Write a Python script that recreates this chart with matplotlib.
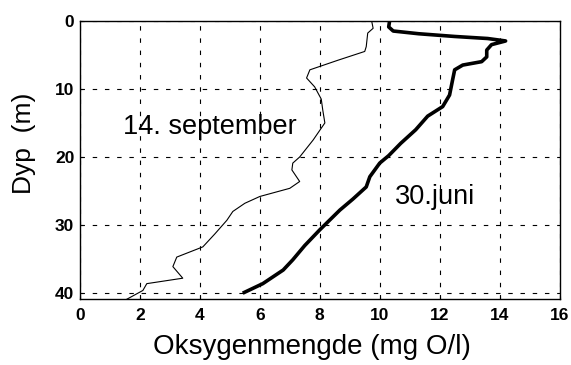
import matplotlib.pyplot as plt

plt.rcParams['font.family'] = ['Liberation Sans', 'DejaVu Sans']

# 30. juni (thick line)
juni_oxy = [10.33, 10.3, 10.45, 11.3, 12.5, 13.6, 14.2, 13.73, 13.57, 13.57, 13.4,
            12.77, 12.5, 12.43, 12.33, 12.1, 11.6, 11.2, 10.7, 10.3, 10.0, 9.67,
            9.55, 9.1, 8.67, 8.0, 7.5, 7.1, 6.78, 6.1, 5.43]
juni_depth = [0.0, 0.9, 1.5, 1.9, 2.3, 2.6, 2.96, 3.5, 4.3, 5.3, 6.0,
              6.5, 7.2, 8.7, 10.9, 12.6, 14.0, 16.0, 18.0, 19.8, 20.9, 22.9,
              24.4, 26.2, 27.8, 30.7, 33.0, 35.1, 36.6, 38.6, 40.0]

# 14. september (thin line)
sept_oxy = [9.73, 9.78, 9.6, 9.55, 9.5, 8.6, 7.67, 7.56, 7.83, 8.05, 8.1, 8.17,
            7.78, 7.33, 7.1, 7.07, 7.33, 7.0, 6.0, 5.5, 5.1, 4.9, 4.5, 4.1, 3.23,
            3.1, 3.43, 2.23, 2.1, 1.56]
sept_depth = [0.0, 1.1, 1.8, 3.8, 4.5, 5.8, 7.2, 8.4, 9.7, 11.5, 13.1, 15.0,
              17.5, 20.0, 20.9, 21.9, 23.6, 24.6, 25.8, 26.8, 28.0, 29.3, 31.3,
              33.2, 34.7, 36.1, 37.8, 38.6, 39.6, 40.9]

x_ticks = [0, 2, 4, 6, 8, 10, 12, 14, 16]
y_ticks = [0, 10, 20, 30, 40]

fig, ax = plt.subplots(figsize=(5.71, 3.65), dpi=100)
fig.subplots_adjust(left=0.14, right=0.98, bottom=0.18, top=0.943)

ax.plot(juni_oxy, juni_depth, color='black', linewidth=2.6,
        solid_capstyle='butt', solid_joinstyle='round')
ax.plot(sept_oxy, sept_depth, color='black', linewidth=0.8,
        solid_joinstyle='round')

ax.set_xlim(0, 16)
ax.set_ylim(40.9, 0)
ax.set_xticks(x_ticks)
ax.set_yticks(y_ticks)
ax.tick_params(direction='in', length=2, labelsize=12.5, width=0.8)
ax.tick_params(axis='x', pad=6)
ax.tick_params(axis='y', pad=4)
for lbl in ax.get_xticklabels() + ax.get_yticklabels():
    lbl.set_fontweight('bold')
ax.grid(True, color='black', linestyle=(0, (4, 7)), linewidth=0.8)

ax.text(4.33, 15.6, "14. september", fontsize=19.5, ha='center', va='center')
ax.text(11.83, 25.9, "30.juni", fontsize=19.5, ha='center', va='center')

ax.set_xlabel("Oksygenmengde (mg O/l)", fontsize=20)
ax.xaxis.set_label_coords(0.484, -0.126)
ax.set_ylabel("Dyp  (m)", fontsize=19)
ax.yaxis.set_label_coords(-0.092, 0.56)

for sp in ax.spines.values():
    sp.set_linewidth(1.0)

fig.savefig("out.png")
